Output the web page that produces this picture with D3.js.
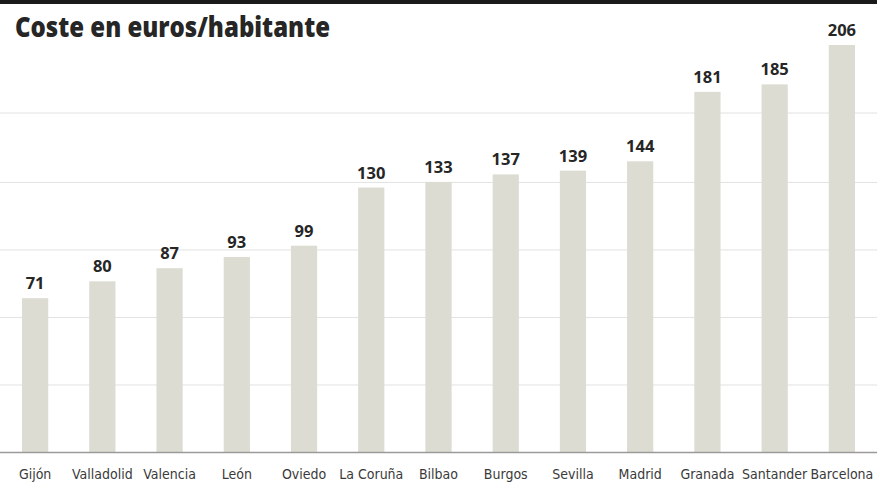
<!DOCTYPE html>
<html>
<head>
<meta charset="utf-8">
<script src="https://cdn.jsdelivr.net/npm/d3@7"></script>
<style>
  html, body { margin: 0; padding: 0; background: #fff; }
  svg { display: block; }
</style>
</head>
<body>
<div class="chart-coste"></div>
<script>
// data
const cities = ['Gijón', 'Valladolid', 'Valencia', 'León', 'Oviedo', 'La Coruña', 'Bilbao',
                'Burgos', 'Sevilla', 'Madrid', 'Granada', 'Santander', 'Barcelona'];
const costs = [71, 80, 87, 93, 99, 130, 133, 137, 139, 144, 181, 185, 206];
// unlabelled horizontal guide lines
const gridValues = [25, 61, 97, 133, 170];
const title = 'Coste en euros/habitante';

let width = 880,
    height = 495,
    svg = d3.select('.chart-coste').append('svg')
        .attr('width', width)
        .attr('height', height);

// black rule on top
svg.append('rect')
    .attr('x', 0).attr('y', 0)
    .attr('width', 877).attr('height', 4)
    .attr('fill', '#1a1a1a');

svg.append('text')
    .text(title)
    .attr('x', 15)
    .attr('y', 37)
    .attr('textLength', 315)
    .attr('lengthAdjust', 'spacingAndGlyphs')
    .attr('font-family', '"Open Sans", sans-serif')
    .attr('font-weight', 800)
    .attr('font-size', 29)
    .attr('fill', '#262626');

let x = d3.scaleBand()
    .domain(cities)
    .range([1.5, 875.5])
    .paddingInner(0.61)
    .paddingOuter(0.305);

let y = d3.scaleLinear()
    .domain([-11, 206])
    .range([452, 45]);

// grid lines
let yAxisGroup = svg.append('g')
    .call(d3.axisLeft(y).tickValues(gridValues).tickSize(-877).tickFormat(''));
yAxisGroup.select('.domain').remove();
yAxisGroup.selectAll('.tick line')
    .attr('stroke', '#e2e2e2')
    .attr('stroke-width', 1);

// bars
svg.selectAll('.bar')
    .data(costs)
    .enter().append('rect')
    .attr('class', 'bar')
    .attr('x', (d, i) => x(cities[i]))
    .attr('y', d => y(d))
    .attr('width', x.bandwidth())
    .attr('height', d => y.range()[0] - y(d))
    .attr('fill', '#dcdcd3');

// value labels
svg.selectAll('.val')
    .data(costs)
    .enter().append('text')
    .attr('class', 'val')
    .attr('x', (d, i) => x(cities[i]) + x.bandwidth() / 2)
    .attr('y', d => y(d) - 9)
    .attr('text-anchor', 'middle')
    .attr('font-family', '"Open Sans", sans-serif')
    .attr('font-weight', 700)
    .attr('font-size', 16.5)
    .attr('fill', '#262626')
    .text(d => d);

// x axis
let xAxisGroup = svg.append('g')
    .attr('transform', 'translate(0,452)')
    .call(d3.axisBottom(x).tickSize(0).tickPadding(17));
xAxisGroup.select('.domain')
    .attr('d', 'M0,0.5H877')
    .attr('stroke', '#9a9a9a')
    .attr('stroke-width', 1.5);
xAxisGroup.selectAll('text')
    .attr('font-family', '"DejaVu Sans Condensed", "Liberation Sans Narrow", Roboto, sans-serif')
    .attr('font-stretch', 'condensed')
    .attr('font-size', 14)
    .attr('fill', '#3a3a3a');
</script>
</body>
</html>
